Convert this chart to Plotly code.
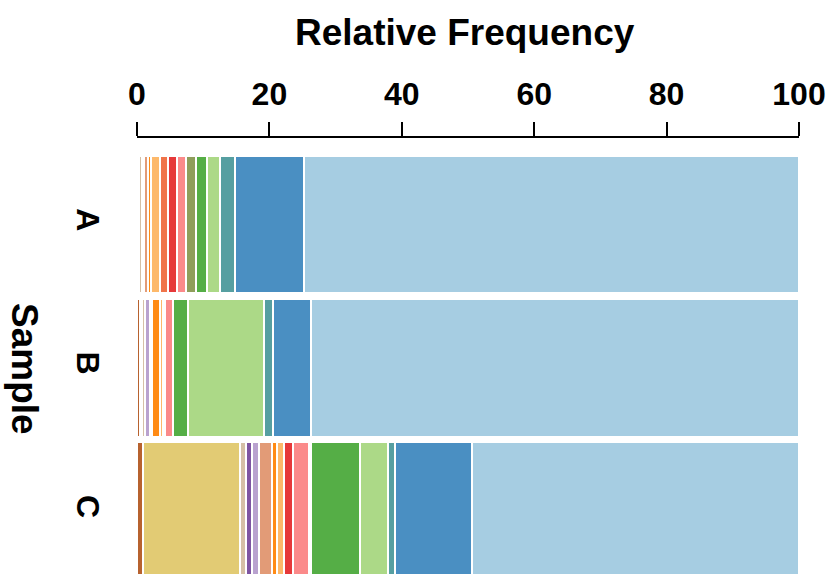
import plotly.graph_objects as go

samples = ["A", "B", "C"]
taxa = ["Taxon 17", "Taxon 16", "Taxon 15", "Taxon 14", "Taxon 13", "Taxon 12",
        "Taxon 11", "Taxon 10", "Taxon 9", "Taxon 8", "Taxon 7", "Taxon 6",
        "Taxon 5", "Taxon 4", "Taxon 3", "Taxon 2", "Taxon 1"]
colors = ["#b7622f", "#e2cb74", "#d5c0a6", "#7e55a2", "#b9a2cf", "#e29b77",
          "#ff8b15", "#fdb96b", "#f0744a", "#e6393a", "#fb8a8a", "#8f9e5b",
          "#55ae46", "#acd987", "#569fa1", "#4a8fc2", "#a6cde2"]

sample_A = [0, 0.3, 0.5, 0, 0.3, 0.5, 0.5, 1.4, 1.2, 1.35, 1.3, 1.5, 1.75, 1.9, 2.35, 10.35, 74.8]
sample_B = [0.5, 0.2, 0.5, 0, 0.7, 0.4, 1.2, 0.5, 0.3, 0, 1.1, 0, 2.25, 11.5, 1.35, 5.8, 73.7]
sample_C = [0.95, 14.55, 0.98, 0.94, 1.07, 1.95, 0.7, 1.06, 0, 1.31, 2.54, 0.3, 7.28, 4.28, 1.12, 11.6, 49.37]

x_ticks = [0, 20, 40, 60, 80, 100]

FONT = "Liberation Sans, Arial, Helvetica, sans-serif"

fig = go.Figure()
for i, (name, col) in enumerate(zip(taxa, colors)):
    fig.add_trace(go.Bar(
        y=samples,
        x=[sample_A[i], sample_B[i], sample_C[i]],
        name=name,
        orientation="h",
        width=0.96,
        marker=dict(color=col, line=dict(color="white", width=2)),
        hoverinfo="name+x",
    ))

W, H = 837, 574
ml, mr, mt, mb = 137, 38, 138, 0
pw, ph = W - ml - mr, H - mt - mb

def px_to_paper_x(px):
    return (px - ml) / pw

def px_to_paper_y(py):
    return (H - mb - py) / ph

fig.update_layout(
    width=W, height=H,
    margin=dict(l=ml, r=mr, t=mt, b=mb, pad=0),
    barmode="stack",
    showlegend=False,
    paper_bgcolor="white",
    plot_bgcolor="white",
    font=dict(family=FONT, color="black"),
    xaxis=dict(
        side="top",
        range=[0, 100],
        tickvals=x_ticks,
        ticktext=[str(v) for v in x_ticks],
        ticks="outside", ticklen=14, tickwidth=2, tickcolor="black",
        showline=True, linecolor="black", linewidth=2,
        showgrid=False, zeroline=False,
        tickfont=dict(family=FONT, size=32, color="black", weight="bold"),
        ticklabelstandoff=4,
    ),
    yaxis=dict(
        type="category",
        categoryorder="array", categoryarray=samples,
        range=[2.438, -0.605],
        tickangle=90,
        ticks="", showline=False, showgrid=False, zeroline=False,
        tickfont=dict(family=FONT, size=32, color="black", weight="bold"),
        ticklabelstandoff=27,
    ),
    annotations=[
        dict(text="Relative Frequency", xref="paper", yref="paper",
             x=px_to_paper_x(465), y=px_to_paper_y(33),
             xanchor="center", yanchor="middle", showarrow=False,
             font=dict(family=FONT, size=37, color="black", weight="bold")),
        dict(text="Sample", xref="paper", yref="paper",
             x=px_to_paper_x(25), y=px_to_paper_y(369),
             xanchor="center", yanchor="middle", showarrow=False, textangle=90,
             font=dict(family=FONT, size=37, color="black", weight="bold")),
    ],
)

fig.write_html("out.html")
